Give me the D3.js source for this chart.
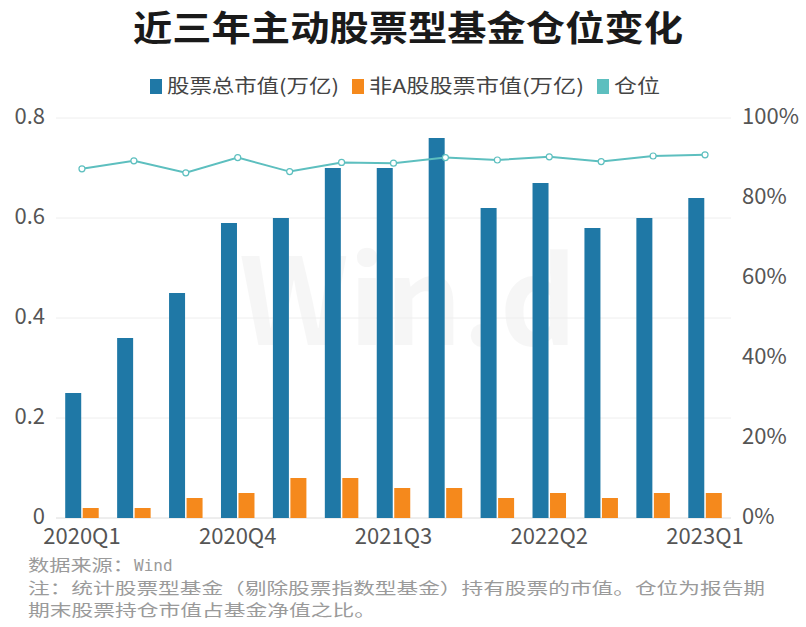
<!DOCTYPE html>
<html>
<head>
<meta charset="utf-8">
<script src="https://cdn.jsdelivr.net/npm/d3@7"></script>
<style>
  body { margin: 0; background: #fff; }
  text { font-family: "Noto Sans CJK SC", "Noto Sans", sans-serif; }
</style>
</head>
<body>
<div id="chart"></div>
<script>
// quarters and values
const quarters = ["2020Q1", "2020Q2", "2020Q3", "2020Q4", "2021Q1", "2021Q2", "2021Q3",
                  "2021Q4", "2022Q1", "2022Q2", "2022Q3", "2022Q4", "2023Q1"];
const totalValue = [0.25, 0.36, 0.45, 0.59, 0.60, 0.70, 0.70, 0.76, 0.62, 0.67, 0.58, 0.60, 0.64];
const nonAValue = [0.02, 0.02, 0.04, 0.05, 0.08, 0.08, 0.06, 0.06, 0.04, 0.05, 0.04, 0.05, 0.05];
const position = [87.3, 89.3, 86.3, 90.1, 86.6, 88.9, 88.7, 90.1, 89.5, 90.3, 89.1, 90.5, 90.8];
const leftTicks = [0, 0.2, 0.4, 0.6, 0.8];
const rightTicks = [0, 20, 40, 60, 80, 100];
const shownLabels = ["2020Q1", "2020Q4", "2021Q3", "2022Q2", "2023Q1"];

const width = 806, height = 627;
const margin = { top: 118, right: 75, bottom: 109, left: 56 };
const blue = "#1f78a6", orange = "#f5891c", teal = "#5dbfbf";

const svg = d3.select("#chart").append("svg")
    .attr("width", width)
    .attr("height", height);

const x = d3.scaleBand()
    .domain(quarters)
    .range([margin.left, width - margin.right]);

const yLeft = d3.scaleLinear().domain([0, 0.8]).range([height - margin.bottom, margin.top]);
const yRight = d3.scaleLinear().domain([0, 100]).range([height - margin.bottom, margin.top]);

// title (the source picture is a bit stretched sideways)
svg.append("text")
    .attr("x", 133).attr("y", 41)
    .attr("font-size", 35).attr("font-weight", "bold")
    .attr("fill", "#1a1a1a")
    .attr("textLength", 550).attr("lengthAdjust", "spacingAndGlyphs")
    .text("近三年主动股票型基金仓位变化");

// legend
const legend = [
    { label: "股票总市值(万亿)", color: blue, x: 150, w: 172 },
    { label: "非A股股票市值(万亿)", color: orange, x: 352, w: 215 },
    { label: "仓位", color: teal, x: 597, w: 46 }
];
const lg = svg.selectAll(".legend").data(legend).enter().append("g")
    .attr("transform", d => `translate(${d.x},0)`);
lg.append("rect").attr("x", 0).attr("y", 79).attr("width", 12).attr("height", 15).attr("fill", d => d.color);
lg.append("text").attr("x", 17).attr("y", 93)
    .attr("font-size", 19).attr("fill", "#444")
    .attr("textLength", d => d.w).attr("lengthAdjust", "spacingAndGlyphs")
    .text(d => d.label);

// watermark
svg.append("text")
    .attr("x", 408).attr("y", 345)
    .attr("text-anchor", "middle")
    .attr("font-size", 120).attr("font-weight", "bold")
    .attr("fill", "#000").attr("fill-opacity", 0.035)
    .text("Win.d");

// grid lines
svg.append("g").selectAll("line").data(leftTicks).enter().append("line")
    .attr("x1", margin.left).attr("x2", width - margin.right)
    .attr("y1", d => yLeft(d)).attr("y2", d => yLeft(d))
    .attr("stroke", d => d === 0 ? "#dcdcdc" : "#eeeeee")
    .attr("stroke-width", 1);

// left axis labels
svg.append("g").selectAll("text").data(leftTicks).enter().append("text")
    .attr("x", 45).attr("y", d => yLeft(d) + 6)
    .attr("text-anchor", "end")
    .attr("font-size", 22).attr("fill", "#555")
    .text(d => d === 0 ? "0" : d3.format(".1f")(d));

// right axis labels
svg.append("g").selectAll("text").data(rightTicks).enter().append("text")
    .attr("x", 742).attr("y", d => yRight(d) + 6)
    .attr("text-anchor", "start")
    .attr("font-size", 22).attr("fill", "#555")
    .text(d => d + "%");

// x labels
svg.append("g").selectAll("text").data(shownLabels).enter().append("text")
    .attr("x", d => x(d) + x.bandwidth() / 2)
    .attr("y", 544)
    .attr("text-anchor", "middle")
    .attr("font-size", 22).attr("fill", "#555")
    .text(d => d);

// bars
const barW = 16, gap = 1.5;
svg.append("g").selectAll("rect").data(quarters).enter().append("rect")
    .attr("x", d => x(d) + x.bandwidth() / 2 - barW - gap / 2)
    .attr("y", (d, i) => yLeft(totalValue[i]))
    .attr("width", barW)
    .attr("height", (d, i) => yLeft(0) - yLeft(totalValue[i]))
    .attr("fill", blue);

svg.append("g").selectAll("rect").data(quarters).enter().append("rect")
    .attr("x", d => x(d) + x.bandwidth() / 2 + gap / 2)
    .attr("y", (d, i) => yLeft(nonAValue[i]))
    .attr("width", barW)
    .attr("height", (d, i) => yLeft(0) - yLeft(nonAValue[i]))
    .attr("fill", orange);

// position line
const line = d3.line()
    .x((d, i) => x(quarters[i]) + x.bandwidth() / 2)
    .y(d => yRight(d));

svg.append("path")
    .datum(position)
    .attr("d", line)
    .attr("fill", "none")
    .attr("stroke", teal)
    .attr("stroke-width", 2);

svg.append("g").selectAll("circle").data(position).enter().append("circle")
    .attr("cx", (d, i) => x(quarters[i]) + x.bandwidth() / 2)
    .attr("cy", d => yRight(d))
    .attr("r", 3)
    .attr("fill", "#fff")
    .attr("stroke", teal)
    .attr("stroke-width", 1.2);

// footer notes
const footer = svg.append("g").attr("font-size", 16).attr("fill", "#9a9a9a");
footer.append("text").attr("x", 28).attr("y", 571)
    .attr("textLength", 106).attr("lengthAdjust", "spacingAndGlyphs")
    .text("数据来源：");
footer.append("text").attr("x", 134).attr("y", 571)
    .style("font-family", "'DejaVu Sans Mono', monospace").attr("font-size", 16)
    .text("Wind");

footer.append("text").attr("x", 28).attr("y", 594)
    .attr("textLength", 737).attr("lengthAdjust", "spacingAndGlyphs")
    .text("注：统计股票型基金（剔除股票指数型基金）持有股票的市值。仓位为报告期");
footer.append("text").attr("x", 28).attr("y", 616)
    .attr("textLength", 348).attr("lengthAdjust", "spacingAndGlyphs")
    .text("期末股票持仓市值占基金净值之比。");
</script>
</body>
</html>
